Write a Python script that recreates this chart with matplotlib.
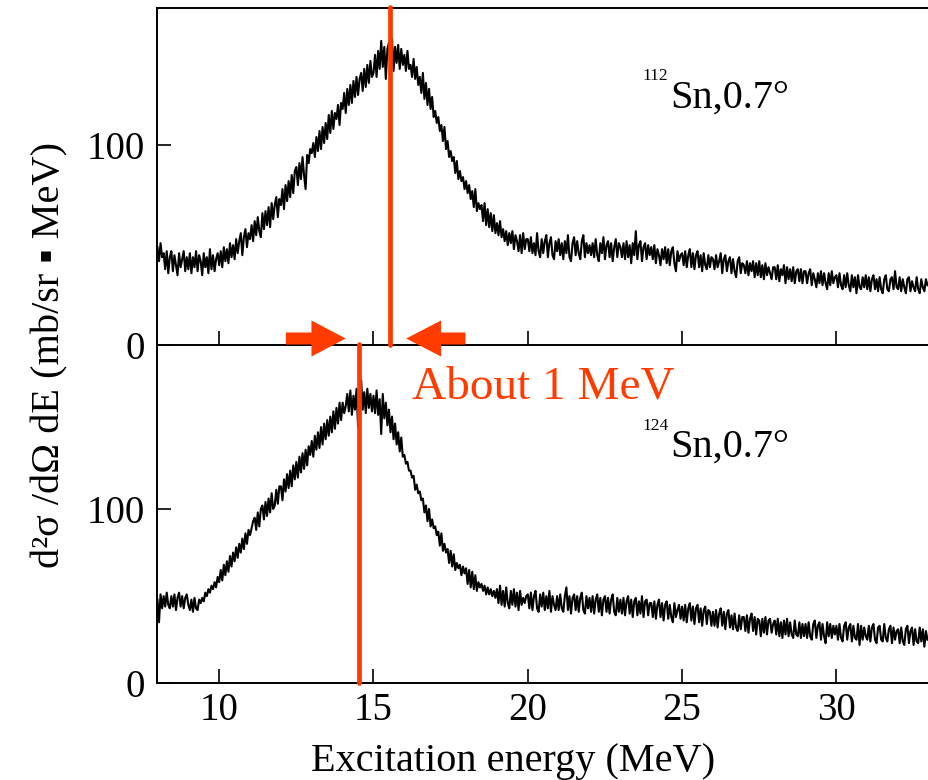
import numpy as np
import matplotlib
matplotlib.use("Agg")
import matplotlib.pyplot as plt
from matplotlib.patches import FancyArrow

plt.rcParams['font.family'] = ['Liberation Serif', 'DejaVu Serif']

RED = '#ff3b00'

# spectra, 0.05 MeV bins starting at 8 MeV (one row = 1 MeV)
sn112 = [
    49, 42, 51, 44, 46, 38, 47, 36, 44, 47, 37, 45, 40, 35, 46, 39, 43, 47, 37, 44,
    38, 46, 36, 44, 39, 47, 37, 45, 42, 35, 46, 39, 44, 36, 48, 38, 45, 37, 43, 46,
    40, 47, 39, 49, 42, 48, 41, 51, 44, 50, 43, 53, 46, 52, 56, 45, 54, 58, 49, 56,
    53, 60, 52, 62, 55, 64, 57, 54, 66, 58, 67, 60, 69, 59, 71, 63, 70, 74, 64, 73,
    70, 78, 68, 80, 72, 82, 74, 85, 76, 87, 89, 80, 91, 83, 94, 85, 78, 95, 91, 98,
    96, 101, 94, 104, 97, 107, 98, 109, 101, 111, 103, 115, 106, 117, 108, 116, 113, 120, 110, 121,
    118, 126, 116, 128, 120, 130, 121, 132, 124, 134, 125, 133, 136, 127, 138, 129, 140, 131, 142, 134,
    136, 145, 134, 147, 138, 152, 139, 149, 133, 148, 151, 140, 153, 137, 149, 141, 150, 138, 148, 140,
    145, 137, 147, 138, 140, 134, 143, 133, 139, 130, 134, 126, 136, 123, 131, 120, 128, 118, 124, 114,
    117, 111, 114, 107, 110, 102, 109, 98, 102, 94, 97, 92, 94, 86, 92, 83, 87, 82, 84, 78,
    82, 76, 80, 73, 77, 69, 78, 67, 71, 68, 70, 62, 71, 60, 68, 59, 66, 57, 65, 56,
    61, 55, 62, 54, 58, 52, 57, 50, 56, 51, 57, 48, 55, 52, 47, 55, 46, 56, 48, 53,
    53, 47, 54, 46, 51, 45, 56, 47, 44, 53, 46, 52, 55, 44, 51, 54, 45, 43, 52, 47,
    53, 45, 51, 43, 52, 46, 55, 44, 42, 51, 54, 45, 52, 46, 43, 52, 55, 44, 51, 46,
    50, 45, 51, 44, 53, 45, 42, 51, 46, 54, 43, 50, 52, 44, 51, 42, 49, 53, 44, 51,
    49, 44, 51, 43, 52, 44, 50, 41, 51, 45, 57, 43, 50, 52, 42, 49, 51, 43, 50, 45,
    49, 43, 50, 41, 48, 45, 40, 48, 43, 49, 41, 48, 40, 47, 49, 41, 37, 47, 42, 45,
    46, 40, 47, 39, 45, 48, 39, 46, 38, 45, 47, 39, 45, 37, 46, 40, 38, 45, 39, 44,
    43, 38, 45, 39, 42, 46, 36, 43, 45, 37, 42, 44, 36, 43, 37, 34, 42, 44, 36, 41,
    40, 36, 42, 35, 41, 37, 42, 34, 41, 35, 42, 34, 40, 33, 41, 35, 39, 36, 33, 39,
    39, 33, 40, 32, 38, 35, 40, 31, 39, 33, 38, 32, 39, 31, 37, 38, 32, 38, 31, 37,
    37, 31, 36, 38, 30, 36, 33, 29, 36, 31, 37, 30, 36, 31, 28, 36, 30, 37, 31, 34,
    35, 29, 36, 30, 28, 35, 29, 36, 30, 27, 35, 29, 34, 26, 35, 29, 28, 34, 29, 35,
    28, 34, 27, 33, 35, 28, 33, 27, 34, 28, 26, 33, 35, 28, 27, 33, 34, 28, 37, 29,
    28, 34, 27, 33, 29, 26, 33, 34, 27, 32, 29, 27, 34, 28, 26, 33, 29, 27, 33, 30,
]

sn124 = [
    48, 35, 51, 43, 50, 44, 52, 45, 43, 50, 44, 51, 42, 49, 52, 44, 50, 43, 49, 51,
    45, 42, 48, 41, 49, 43, 42, 48, 46, 49, 47, 52, 50, 54, 52, 56, 54, 58, 55, 61,
    58, 65, 59, 68, 62, 70, 64, 73, 67, 75, 70, 78, 72, 80, 75, 83, 77, 86, 80, 88,
    85, 89, 93, 95, 88, 98, 90, 100, 102, 94, 104, 96, 106, 98, 109, 100, 102, 111, 103, 113,
    113, 105, 117, 110, 120, 112, 122, 113, 125, 117, 127, 118, 130, 121, 132, 123, 134, 125, 136, 131,
    139, 130, 142, 134, 144, 135, 147, 137, 149, 140, 151, 142, 153, 144, 156, 146, 158, 149, 161, 151,
    161, 155, 159, 166, 156, 168, 154, 165, 157, 169, 147, 166, 174, 157, 167, 155, 169, 158, 166, 156,
    165, 155, 168, 154, 163, 143, 166, 152, 161, 148, 157, 144, 153, 140, 149, 137, 144, 133, 141, 130,
    131, 126, 127, 122, 122, 118, 119, 111, 114, 109, 110, 105, 106, 98, 102, 93, 100, 90, 94, 89,
    90, 85, 87, 79, 86, 76, 80, 75, 77, 69, 76, 67, 74, 65, 69, 66, 68, 62, 67, 63,
    66, 57, 65, 55, 64, 54, 62, 53, 58, 55, 57, 53, 56, 51, 55, 51, 54, 50, 53, 49,
    54, 46, 56, 45, 53, 44, 55, 46, 43, 53, 45, 54, 44, 52, 42, 53, 45, 49, 46, 50,
    51, 43, 52, 42, 50, 53, 43, 41, 51, 44, 52, 42, 50, 43, 53, 41, 50, 45, 42, 50,
    42, 51, 43, 41, 50, 55, 42, 50, 40, 49, 51, 42, 50, 41, 49, 52, 42, 40, 50, 43,
    49, 41, 50, 40, 48, 51, 41, 49, 39, 48, 50, 41, 49, 40, 48, 51, 41, 39, 49, 41,
    48, 40, 49, 39, 47, 50, 40, 48, 38, 47, 49, 39, 47, 40, 50, 38, 47, 48, 39, 46,
    46, 38, 47, 37, 45, 48, 38, 46, 36, 45, 47, 37, 45, 38, 35, 46, 38, 42, 45, 37,
    44, 36, 45, 35, 43, 46, 36, 44, 34, 43, 45, 35, 43, 33, 42, 44, 34, 42, 41, 33,
    41, 33, 42, 32, 40, 43, 33, 41, 31, 40, 42, 32, 39, 31, 40, 32, 30, 39, 31, 38,
    38, 30, 39, 29, 37, 40, 30, 38, 28, 37, 36, 27, 37, 29, 38, 28, 36, 37, 29, 34,
    36, 28, 37, 27, 35, 26, 36, 28, 37, 27, 35, 28, 26, 36, 28, 27, 35, 26, 34, 27,
    34, 26, 35, 27, 25, 34, 36, 26, 33, 35, 25, 34, 27, 23, 35, 27, 34, 26, 33, 28,
    33, 25, 34, 26, 24, 33, 35, 25, 32, 34, 24, 33, 26, 25, 34, 22, 33, 25, 32, 27,
    25, 33, 24, 32, 34, 25, 23, 32, 33, 25, 24, 34, 26, 24, 31, 33, 23, 32, 25, 30,
    31, 23, 32, 24, 22, 31, 33, 23, 30, 32, 22, 31, 24, 23, 32, 24, 31, 21, 30, 25,
]

e_start = 8.0
e_step = 0.05
peak112 = 15.55
peak124 = 14.53
xticks = [10, 15, 20, 25, 30]
yticks = [0, 100]

e112 = e_start + e_step * np.arange(len(sn112))
e124 = e_start + e_step * np.arange(len(sn124))

fig = plt.figure(figsize=(9.29, 7.8), dpi=100)
ax1 = fig.add_axes([0.1695, 0.5573, 0.8305, 0.4324])
ax2 = fig.add_axes([0.1695, 0.1240, 0.8305, 0.4333], sharex=ax1)

for ax in (ax1, ax2):
    ax.patch.set_visible(False)
    ax.spines['right'].set_visible(False)
    for s in ('left', 'bottom', 'top'):
        ax.spines[s].set_linewidth(1.4)
    ax.tick_params(direction='in', length=10, width=1.2, labelsize=28,
                   right=False, top=False)
    ax.tick_params(axis='y', pad=9)
    ax.tick_params(axis='x', pad=6)
    ax.set_yticks(yticks)
    ax.set_xticks(xticks)

ax2.spines['top'].set_visible(False)
ax1.tick_params(labelbottom=False)

ax1.plot(e112, sn112, color='black', lw=1.5)
ax2.plot(e124, sn124, color='black', lw=1.5)

ax1.set_xlim(8, 33)
ax1.set_ylim(0, 168.4)
ax2.set_ylim(0, 193.9)

# peak markers
ax1.plot([peak112, peak112], [0, 169.1], color=RED, lw=3.4,
         solid_capstyle='round', clip_on=False, zorder=5)
ax2.plot([peak124, peak124], [0, 194.7], color=RED, lw=3.4,
         solid_capstyle='round', clip_on=False, zorder=5)

# arrows pointing at the gap
ax2.add_patch(FancyArrow(12.16, 197.8, 1.94, 0, width=6.9, head_width=20.7,
                         head_length=1.11, length_includes_head=True,
                         color=RED, lw=0, clip_on=False, zorder=6))
ax2.add_patch(FancyArrow(17.98, 197.8, -1.92, 0, width=6.9, head_width=20.7,
                         head_length=1.13, length_includes_head=True,
                         color=RED, lw=0, clip_on=False, zorder=6))

ax2.text(16.24, 163.1, 'About 1 MeV', color=RED, fontsize=34,
         ha='left', va='baseline')

# nucleus labels
ax1.text(24.55, 132.4, '112', fontsize=12.5, ha='right', va='baseline')
ax1.text(24.6, 118.5, 'Sn,0.7°', fontsize=29, ha='left', va='baseline')
ax2.text(24.55, 145.3, '124', fontsize=12.5, ha='right', va='baseline')
ax2.text(24.6, 130.0, 'Sn,0.7°', fontsize=29, ha='left', va='baseline')

fig.text(513 / 929, 1 - 771 / 780, 'Excitation energy (MeV)', fontsize=29,
         ha='center', va='baseline')
fig.text(50 / 929, 1 - 354.5 / 780, 'd²σ /dΩ dE (mb/sr ▪ MeV)', fontsize=29,
         rotation=90, ha='center', va='center')

fig.savefig('out.png', dpi=100, facecolor='white')
